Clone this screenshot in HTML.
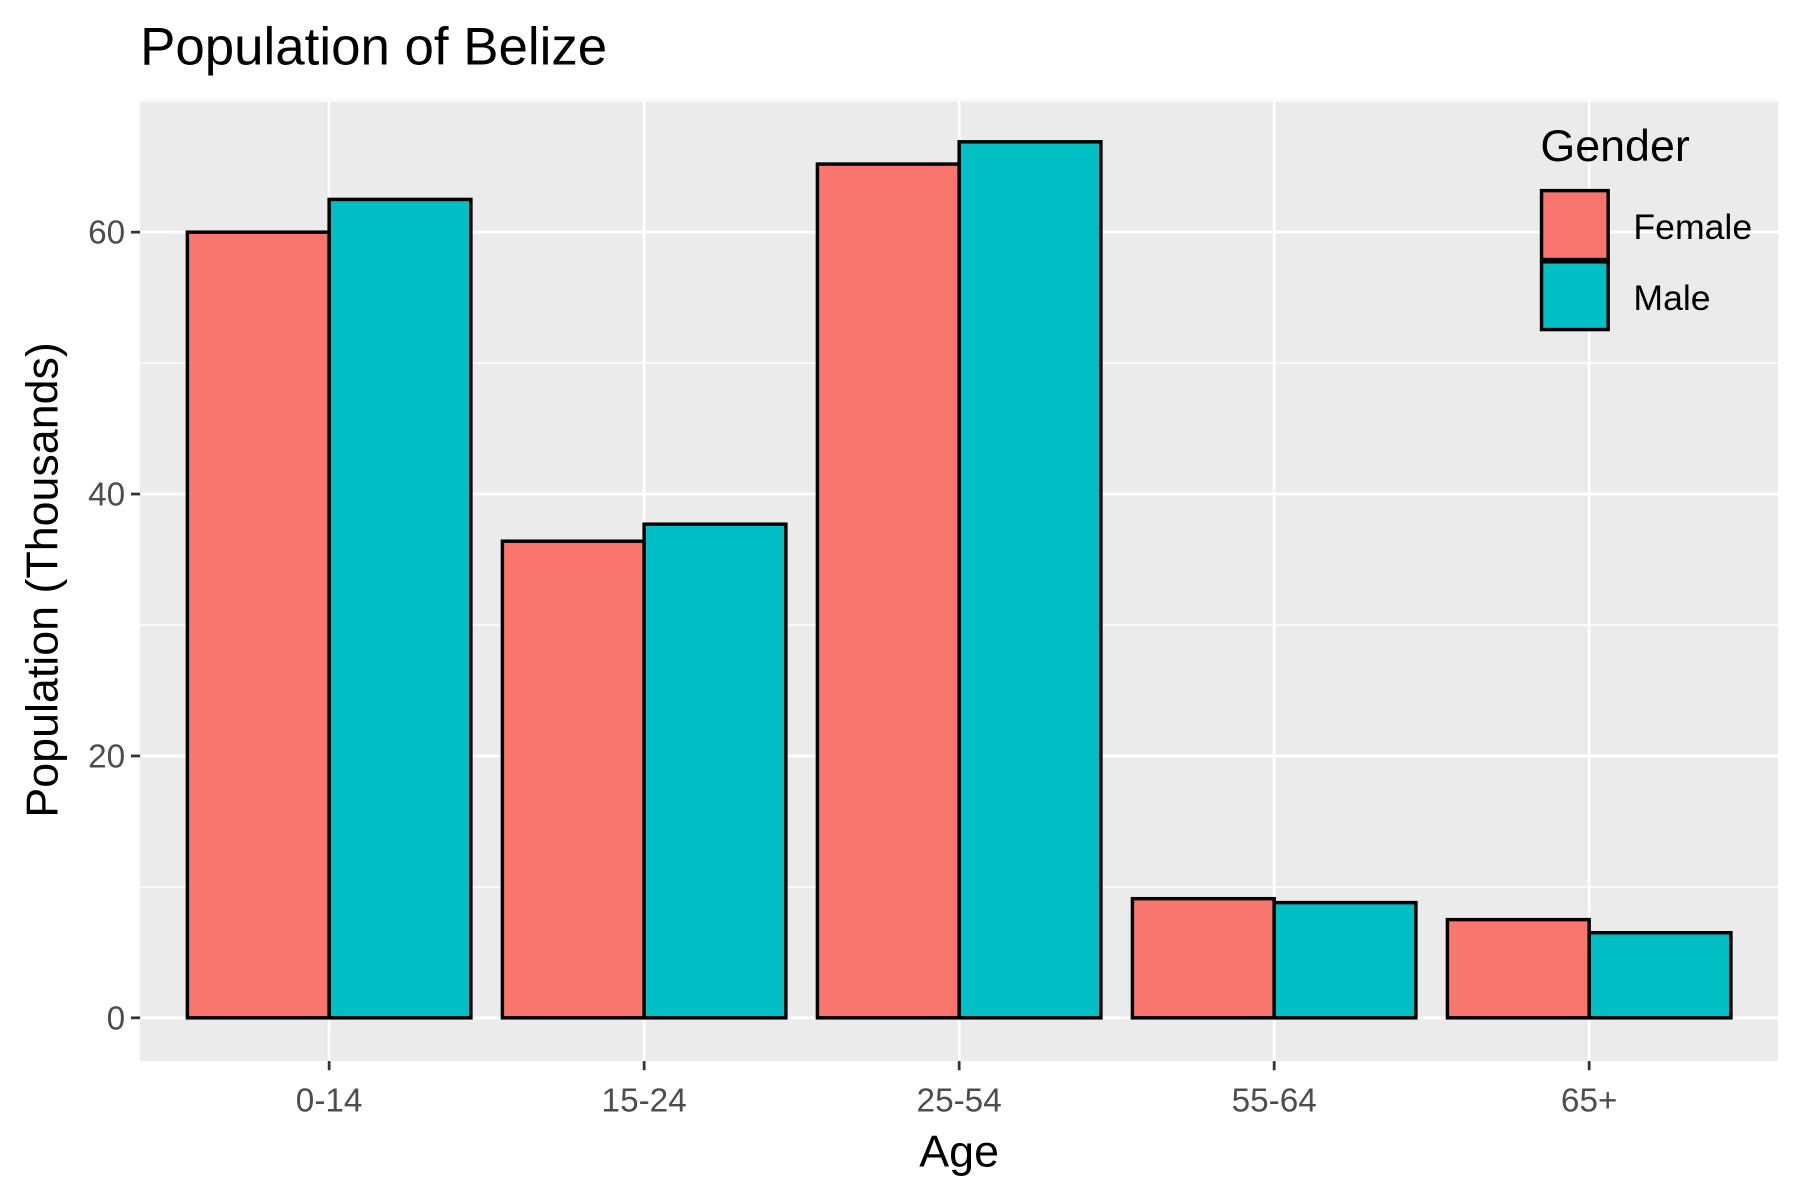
<!DOCTYPE html>
<html><head><meta charset="utf-8"><style>
html,body{margin:0;padding:0;background:#fff;}
svg{display:block;font-family:"Liberation Sans",sans-serif;}
</style></head><body>
<svg id="chart" width="1800" height="1200" viewBox="0 0 1567 1045" preserveAspectRatio="none">
<text x="122" y="56" font-size="46" fill="#000">Population of Belize</text>
<rect x="122" y="87" width="1426" height="837" fill="#ebebeb"/>
<g id="grid"></g>
<g id="bars"></g>
<g id="axes"></g>
<text x="835" y="1016" font-size="39" text-anchor="middle" fill="#000">Age</text>
<text transform="translate(50,505) rotate(-90)" font-size="39" text-anchor="middle" fill="#000">Population (Thousands)</text>
<g>
<text x="1341" y="140" font-size="39" fill="#000">Gender</text>
<rect x="1342" y="166" width="58" height="60" fill="#f8766d" stroke="#000" stroke-width="3"/>
<rect x="1342" y="228" width="58" height="59" fill="#00bfc4" stroke="#000" stroke-width="3"/>
<text x="1422" y="208" font-size="31" fill="#000">Female</text>
<text x="1422" y="270" font-size="31" fill="#000">Male</text>
</g>
</svg>
<script>
const categories = ["0-14","15-24","25-54","55-64","65+"];
const femaleValues = [60.0, 36.4, 65.2, 9.1, 7.5];
const maleValues = [62.5, 37.7, 66.9, 8.8, 6.5];
const yTicks = [0, 20, 40, 60];
const yMinor = [10, 30, 50, 70];

const NS = "http://www.w3.org/2000/svg";
const panel = {x0:122, x1:1548, y0:87, y1:924};
const yMin = -3.3, yMax = 70.1;
function y(v){ return panel.y1 - (v - yMin) / (yMax - yMin) * (panel.y1 - panel.y0); }
const step = (panel.x1 - panel.x0) / (categories.length - 1 + 1.2);
function x(i){ return panel.x0 + step * 0.6 + i * step; }
const barW = step * 0.45;
function mk(tag, attrs, parent){ const e = document.createElementNS(NS, tag); for (const k in attrs) e.setAttribute(k, attrs[k]); parent.appendChild(e); return e; }

const grid = document.getElementById('grid');
yMinor.forEach(v => {
  const l = mk('line', {x1:panel.x0, x2:panel.x1, y1:y(v), y2:y(v), stroke:'#fff', 'stroke-width':1.2}, grid);
  
  
});
yTicks.forEach(v => {
  const l = mk('line', {x1:panel.x0, x2:panel.x1, y1:y(v), y2:y(v), stroke:'#fff', 'stroke-width':2.4}, grid);
  
  
});
categories.forEach((c, i) => {
  const l = mk('line', {x1:x(i), x2:x(i), y1:panel.y0, y2:panel.y1, stroke:'#fff', 'stroke-width':2.4}, grid);
  
  
});

const bars = document.getElementById('bars');
categories.forEach((c, i) => {
  const f = mk('rect', {x:x(i) - barW, y:y(femaleValues[i]), width:barW, height:y(0) - y(femaleValues[i]), fill:'#f8766d', stroke:'#000', 'stroke-width':3}, bars);
  
  
  const m = mk('rect', {x:x(i), y:y(maleValues[i]), width:barW, height:y(0) - y(maleValues[i]), fill:'#00bfc4', stroke:'#000', 'stroke-width':3}, bars);
  
  
});

const axes = document.getElementById('axes');
yTicks.forEach(v => {
  const t = mk('line', {x1:panel.x0 - 8, x2:panel.x0, y1:y(v), y2:y(v), stroke:'#333', 'stroke-width':2.4}, axes);
  
  
  const lb = mk('text', {x:panel.x0 - 13, y:y(v) + 10, 'font-size':29, 'text-anchor':'end', fill:'#4d4d4d'}, axes);
  lb.textContent = v;
  
  
});
categories.forEach((c, i) => {
  const t = mk('line', {x1:x(i), x2:x(i), y1:panel.y1, y2:panel.y1 + 8, stroke:'#333', 'stroke-width':2.4}, axes);
  
  
  const lb = mk('text', {x:x(i), y:panel.y1 + 44, 'font-size':29, 'text-anchor':'middle', fill:'#4d4d4d'}, axes);
  lb.textContent = c;
  
  
});
</script>
</body></html>
